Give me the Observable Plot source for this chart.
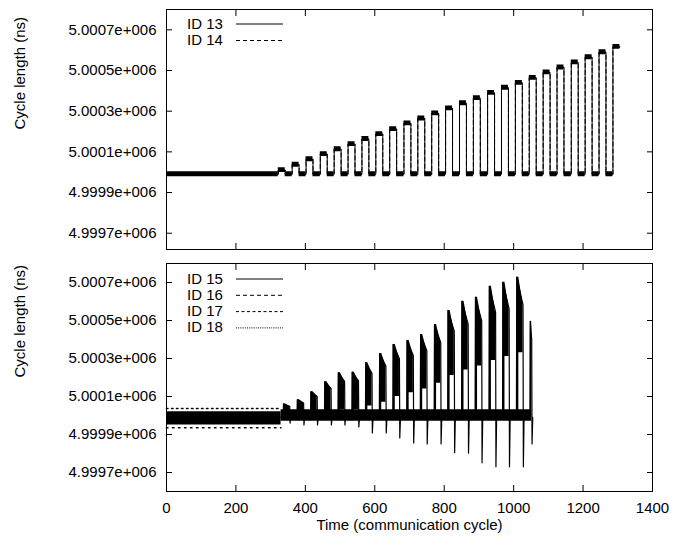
<!DOCTYPE html>
<html><head><meta charset="utf-8">
<script src="https://cdn.jsdelivr.net/npm/d3@7"></script>
<script src="https://cdn.jsdelivr.net/npm/@observablehq/plot@0.6"></script>
<style>
body{margin:0;background:#fff;}
#chart{position:relative;width:675px;height:545px;font-family:"Liberation Sans",Arial,sans-serif;}
#chart svg{display:block;}
#legend{position:absolute;left:0;top:0;}
</style></head><body><div id="chart"></div>
<script>
// ---------- axis ticks ----------
const xTicks = [0, 200, 400, 600, 800, 1000, 1200, 1400];
const yTicks = [4.9997e6, 4.9999e6, 5.0001e6, 5.0003e6, 5.0005e6, 5.0007e6];
const yTickLabels = ["4.9997e+006", "4.9999e+006", "5.0001e+006", "5.0003e+006", "5.0005e+006", "5.0007e+006"];
const xTitle = "Time (communication cycle)";
const yTitle = "Cycle length (ns)";

// ---------- top panel: ID 13 / ID 14 ----------
const topSeries = ["ID 13", "ID 14"];
const topBase = 4.99999e6;
const topRise = [322, 362, 402, 443, 483, 523, 563, 603, 643, 684, 724, 764, 804, 844, 884, 925, 965, 1005, 1045, 1085, 1125, 1166, 1206, 1246, 1286];
const topFall = [342, 382, 422, 463, 503, 543, 583, 623, 663, 704, 744, 784, 824, 864, 904, 945, 985, 1025, 1065, 1105, 1145, 1186, 1226, 1266];
const topLevel = [5000010, 5000037, 5000064, 5000089, 5000113, 5000138, 5000163, 5000187, 5000212, 5000240, 5000264, 5000289, 5000314, 5000339, 5000364, 5000390, 5000415, 5000439, 5000464, 5000491, 5000515, 5000540, 5000565, 5000590, 5000616];
const topEnd = 1306;
const topSpread = 12; // jitter half-width (ns)

// ---------- bottom panel: ID 15 .. ID 18 ----------
const botSeries = ["ID 15", "ID 16", "ID 17", "ID 18"];
const botBase = 4.99999e6;
const bandX  = [0, 330, 330, 1052];
const bandLo = [4.99995e6, 4.99995e6, 4.99997e6, 4.99997e6];
const bandHi = [5.00002e6, 5.00002e6, 5.00003e6, 5.00003e6];
const speckX = [0, 330];
const speckHi = 5.000037e6, speckLo = 4.999935e6;
const botRise    = [337, 377, 416, 456, 495, 535, 574, 614, 653, 693, 732, 772, 811, 851, 890, 930, 969, 1009, 1048];
const botFall    = [355, 395, 434, 474, 513, 553, 592, 632, 671, 711, 750, 790, 829, 869, 908, 948, 987, 1027, 1052];
const botPeak    = [60, 83, 125, 178, 225, 228, 278, 326, 374, 395, 426, 479, 553, 601, 622, 680, 701, 728, 495];
const botPeakEnd = [48, 66, 100, 142, 180, 182, 222, 261, 299, 316, 341, 383, 442, 481, 498, 544, 561, 582, 400];
const botLow     = [0, 0, 0, 0, 30, 30, 50, 70, 100, 120, 140, 170, 210, 240, 260, 290, 310, 330, 200];
const botDip     = [-40, -50, -50, -50, -50, -60, -92, -92, -118, -145, -150, -150, -196, -198, -249, -270, -270, -270, -150];
const edgeWidth = 6; // cycles of dense rising edge

// ---------- build tables ----------
const topPts = [{x: 0, y: topBase}];
topRise.forEach((r, k) => {
  topPts.push({x: r, y: topLevel[k]});
  if (k < topFall.length) topPts.push({x: topFall[k], y: topBase});
});
topPts.push({x: topEnd, y: topLevel[topLevel.length - 1]});

const botPts = [{x: 0, y: botBase}];
const blocks = [];
botRise.forEach((r, k) => {
  const pk = 5e6 + botPeak[k], pe = 5e6 + botPeakEnd[k], lo = 5e6 + botLow[k];
  botPts.push({x: r - 1, y: botBase});
  botPts.push({x: r, y: pk});
  botPts.push({x: botFall[k], y: pe});
  botPts.push({x: botFall[k] + 1, y: 5e6 + botDip[k]});
  botPts.push({x: botFall[k] + 3, y: botBase});
  const e = Math.min(r + edgeWidth, botFall[k]);
  blocks.push({k, x: r, y1: botBase, y2: pk});
  blocks.push({k, x: e, y1: botBase, y2: pk});
  blocks.push({k, x: e, y1: lo, y2: pk});
  blocks.push({k, x: botFall[k], y1: lo, y2: pe});
});
const band = bandX.map((x, i) => ({x, lo: bandLo[i], hi: bandHi[i], seg: i < 2 ? 0 : 1}));
const speck = speckX.map(x => ({x}));

const FONT = "Liberation Sans, Arial, sans-serif";
const fmt = d => yTickLabels[yTicks.indexOf(d)];

function frameMarks(showXLabels) {
  const m = [
    Plot.frame({stroke: "black", strokeWidth: 1}),
    Plot.axisY({ticks: yTicks, tickSize: 0, tickPadding: 10, tickFormat: fmt, label: null, fontSize: 15}),
    Plot.axisY({ticks: yTicks, tickSize: 6, dx: 6, tickFormat: () => "", label: null}),
    Plot.axisY({ticks: yTicks, anchor: "right", tickSize: 6, dx: -6, tickFormat: () => "", label: null}),
    Plot.axisX({ticks: xTicks, anchor: "bottom", tickSize: 6, dy: -6, tickFormat: () => "", label: null}),
    Plot.axisX({ticks: xTicks, anchor: "top", tickSize: 6, dy: 6, tickFormat: () => "", label: null}),
    Plot.text([yTitle], {text: d => d, frameAnchor: "left", dx: -146, rotate: -90, fontSize: 15})
  ];
  if (showXLabels) {
    m.push(Plot.axisX({ticks: xTicks, anchor: "bottom", tickSize: 0, tickPadding: 11, tickFormat: d => String(d), label: null, fontSize: 15}));
    m.push(Plot.text([xTitle], {text: d => d, frameAnchor: "bottom", dy: 38, fontSize: 15}));
  }
  return m;
}

const common = {
  width: 675, marginLeft: 166, marginRight: 23,
  style: {fontFamily: FONT, fontSize: "15px", color: "black", background: "white"},
  x: {domain: [0, 1400], axis: null}
};

const topPlot = Plot.plot({
  ...common, height: 256, marginTop: 9, marginBottom: 7,
  y: {domain: [4.99962e6, 5.0008e6], axis: null},
  marks: [
    Plot.areaY(topPts, {x: "x", y1: d => d.y - topSpread, y2: d => d.y + topSpread, curve: "step-after", fill: "black"}),
    Plot.line(topPts, {x: "x", y: "y", curve: "step-after", stroke: "black", strokeWidth: 1}),
    Plot.line(topPts, {x: "x", y: "y", curve: "step-after", stroke: "black", strokeWidth: 1, strokeDasharray: "4,3"}),
    ...frameMarks(false)
  ]
});

const bottomPlot = Plot.plot({
  ...common, height: 289, marginTop: 7, marginBottom: 54,
  y: {domain: [4.9996e6, 5.0008e6], axis: null},
  marks: [
    Plot.areaY(band, {x: "x", y1: "lo", y2: "hi", z: "seg", fill: "black"}),
    Plot.line(speck, {x: "x", y: () => speckHi, stroke: "black", strokeWidth: 1.5, strokeDasharray: "1.5,3.5"}),
    Plot.line(speck, {x: "x", y: () => speckLo, stroke: "black", strokeWidth: 1.5, strokeDasharray: "1.5,4.5"}),
    Plot.areaY(blocks, {x: "x", y1: "y1", y2: "y2", z: "k", fill: "black"}),
    Plot.line(botPts, {x: "x", y: "y", stroke: "black", strokeWidth: 1.2}),
    ...frameMarks(true)
  ]
});

const chart = document.getElementById("chart");
chart.appendChild(topPlot);
chart.appendChild(bottomPlot);

// ---------- legends (inside the frames) ----------
const lg = d3.select(chart).append("svg").attr("id", "legend").attr("width", 675).attr("height", 545)
  .style("font-family", FONT).style("font-size", "15px");
const dashes = [null, "4,3", "3,2.5", "1,1.2"];
const entries = [
  ...topSeries.map((s, i) => ({s, dash: dashes[i], base: 28.5 + i * 16.5})),
  ...botSeries.map((s, i) => ({s, dash: dashes[i], base: 283.5 + i * 16.3}))
];
entries.forEach(e => {
  lg.append("text").attr("x", 187).attr("y", e.base).text(e.s);
  lg.append("line").attr("x1", 236).attr("x2", 283).attr("y1", e.base - 4.5).attr("y2", e.base - 4.5)
    .attr("stroke", "black").attr("stroke-width", 1).attr("stroke-dasharray", e.dash);
});
</script></body></html>
